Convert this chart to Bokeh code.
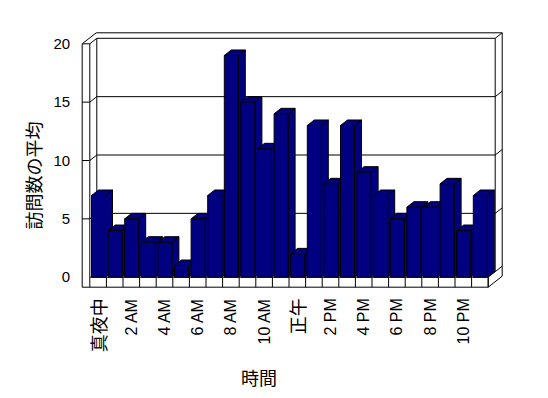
from bokeh.plotting import figure
from bokeh.models import Range1d, ColumnDataSource
from bokeh.core.properties import value
from bokeh.embed import file_html
from bokeh.resources import INLINE
import math

# ---------------- data ----------------
hours = ["真夜中", "1 AM", "2 AM", "3 AM", "4 AM", "5 AM", "6 AM", "7 AM",
         "8 AM", "9 AM", "10 AM", "11 AM", "正午", "1 PM", "2 PM", "3 PM",
         "4 PM", "5 PM", "6 PM", "7 PM", "8 PM", "9 PM", "10 PM", "11 PM"]
visits = [7, 4, 5, 3, 3, 1, 5, 7, 19, 15, 11, 14, 2, 13, 8, 13, 9, 7, 5, 6, 6, 8, 4, 7]
y_ticks = [0, 5, 10, 15, 20]
y_title = "訪問数の平均"
x_title = "時間"

# ---------------- geometry (pixel calibration -> data units) ----------------
W, H = 548, 398
X0_PX, CW_PX = 89.3, 16.6      # pixel of category 0 left edge, px per category
Y0_PX, VU_PX = 276.7, 11.67    # pixel of value 0, px per value unit
N = len(hours)
YMAX = max(y_ticks)
DX, DY = 7.0 / CW_PX, 5.5 / VU_PX      # depth offset
TX = 7.6 / CW_PX                        # left wall thickness
TY = 10.0 / VU_PX                       # floor thickness
GAP, BW = 1.7 / CW_PX, 14.0 / CW_PX     # bar gap / width

p = figure(width=W, height=H, output_backend="svg", toolbar_location=None,
           x_axis_type=None, y_axis_type=None, min_border=0,
           x_range=Range1d(-X0_PX / CW_PX, (W - X0_PX) / CW_PX),
           y_range=Range1d((Y0_PX - H) / VU_PX, Y0_PX / VU_PX))
p.outline_line_color = None
p.grid.visible = False
p.background_fill_color = "white"
p.border_fill_color = "white"

LC = "black"
# outer frame (walls + floor slab)
p.patch([-TX, -TX + 2 * DX, N + 2 * DX, N + 2 * DX, N, -TX],
        [YMAX, YMAX + 2 * DY, YMAX + 2 * DY, 2 * DY - TY, -TY, -TY],
        fill_color="white", line_color=LC, line_width=1)

segs_x0, segs_y0, segs_x1, segs_y1 = [], [], [], []
def seg(a, b, c, d):
    segs_x0.append(a); segs_y0.append(b); segs_x1.append(c); segs_y1.append(d)

# left wall
seg(-TX, YMAX, 0, YMAX)
seg(0, YMAX, 0, 0)
seg(0, YMAX, DX, YMAX + DY)
# back wall inner
seg(DX, YMAX + DY, N + DX, YMAX + DY)
seg(DX, YMAX + DY, DX, DY)
seg(N + DX, YMAX + DY, N + DX, DY)
seg(N + DX, YMAX + DY, N + 2 * DX, YMAX + 2 * DY)
seg(DX, DY, N + DX, DY)
# floor
seg(0, 0, N, 0)
seg(N, 0, N, -TY)
seg(N, 0, N + DX, DY)
seg(N + DX, DY, N + 2 * DX, 2 * DY)
for i in range(N + 1):
    seg(i, 0, i, -TY)
# gridlines
for t in y_ticks[1:-1]:
    seg(-TX, t, 0, t)
    seg(0, t, DX, t + DY)
    seg(DX, t + DY, N + DX, t + DY)
    seg(N + DX, t + DY, N + 2 * DX, t + 2 * DY)
p.segment(segs_x0, segs_y0, segs_x1, segs_y1, line_color=LC, line_width=1)

# bars
BAR = "#000080"
back_xs, back_ys, front_xs, front_ys = [], [], [], []
for i, v in enumerate(visits):
    x0 = i + GAP
    x1 = x0 + BW
    back_xs.append([x1, x1, x1 + DX, x1 + DX]); back_ys.append([0, v, v + DY, DY])
    back_xs.append([x0, x1, x1 + DX, x0 + DX]); back_ys.append([v, v, v + DY, v + DY])
    front_xs.append([x0, x1, x1, x0]); front_ys.append([0, 0, v, v])
p.patches(back_xs, back_ys, fill_color=BAR, line_color=LC, line_width=1)
p.patches(front_xs, front_ys, fill_color=BAR, line_color=LC, line_width=1)

# y tick labels
p.text([-TX] * len(y_ticks), y_ticks, text=[str(t) for t in y_ticks],
       x_offset=-12, text_align="right", text_baseline="middle",
       text_font=value("Liberation Sans"), text_font_size="15px", text_color="black")

# category labels (every 2 hours)
lat = dict(x=[], y=[], t=[])
jp = dict(x=[], y=[], t=[])
for i, h in enumerate(hours):
    if i % 2:
        continue
    d = jp if any(ord(c) > 0x2E80 for c in h) else lat
    d["x"].append(i + 0.5); d["y"].append(0); d["t"].append(h)
p.text(lat["x"], lat["y"], text=lat["t"], angle=math.pi / 2, y_offset=21,
       text_align="right", text_baseline="middle",
       text_font=value("Liberation Sans"), text_font_size="16px", text_color="black")
p.text(jp["x"], jp["y"], text=jp["t"], angle=math.pi / 2, y_offset=21,
       text_align="right", text_baseline="middle",
       text_font=value("Noto Sans CJK JP"), text_font_size="18px", text_color="black")

# axis titles
p.text([-TX], [YMAX / 2], text=[y_title], angle=math.pi / 2, x_offset=-49, y_offset=15,
       text_align="center", text_baseline="middle",
       text_font=value("Noto Sans CJK JP"), text_font_size="18px", text_color="black")
p.text([N / 2], [0], text=[x_title], x_offset=-30, y_offset=100,
       text_align="center", text_baseline="middle",
       text_font=value("Noto Sans CJK JP"), text_font_size="18px", text_color="black")

open("out.html", "w").write(file_html(p, INLINE))
